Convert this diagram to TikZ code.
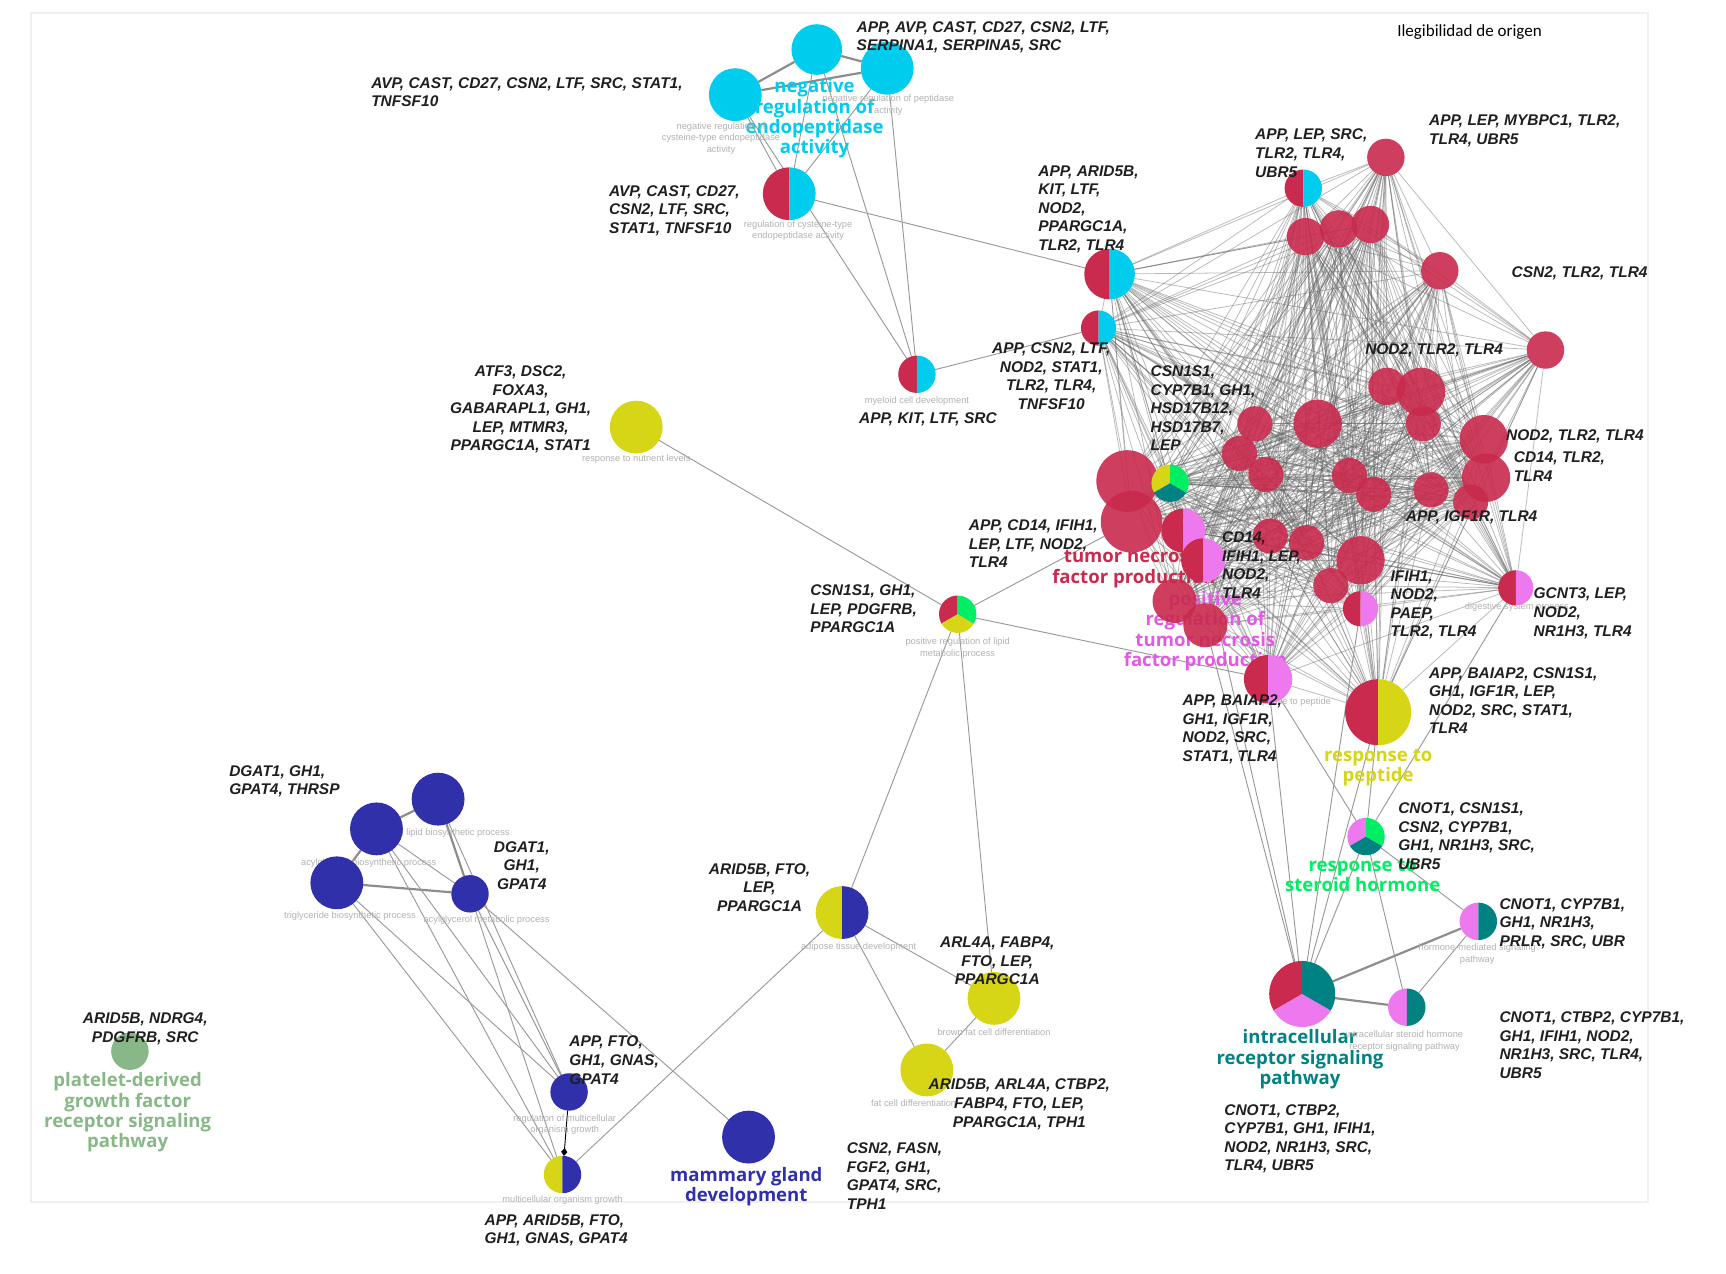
\documentclass[tikz,border=0pt]{standalone}
\usepackage{fontspec}
\setmainfont{Liberation Sans}
\newfontfamily\genef{Liberation Sans}
\newfontfamily\bigf{Open Sans}
\newfontfamily\carlf{Carlito}
\usetikzlibrary{arrows.meta}
\pgfdeclarelayer{bg}
\pgfdeclarelayer{edges}
\pgfdeclarelayer{biglabels}
\pgfsetlayers{bg,edges,biglabels,main}
\definecolor{cRed}{RGB}{201,42,77}
\definecolor{cCyan}{RGB}{0,204,238}
\definecolor{cYel}{RGB}{214,214,22}
\definecolor{cBlue}{RGB}{48,48,170}
\definecolor{cPink}{RGB}{238,120,238}
\definecolor{cGreen}{RGB}{0,238,100}
\definecolor{cTeal}{RGB}{0,130,130}
\definecolor{cLGreen}{RGB}{136,184,136}
\definecolor{cPinkTxt}{RGB}{225,90,225}
\newcommand{\plainnode}[5]{\node[nd, fill=#5, minimum size=#4*0.05cm] (#1) at (#2,#3) {};}
\newcommand{\rednode}[4]{\node[nd, fill=cRed, fill opacity=0.9, minimum size=#4*0.05cm] (#1) at (#2,#3) {};}
\newcommand{\halfnode}[6]{%
  \node[nd, minimum size=#4*0.05cm] (#1) at (#2,#3) {};
  \fill[#5] (#1.center) -- (#1.north) arc[start angle=90, end angle=270, radius=#4*0.025cm] -- cycle;
  \fill[#6] (#1.center) -- (#1.south) arc[start angle=-90, end angle=90, radius=#4*0.025cm] -- cycle;}
\newcommand{\trinode}[7]{%
  \node[nd, minimum size=#4*0.05cm] (#1) at (#2,#3) {};
  \fill[#5] (#1.center) -- (#1.90) arc[start angle=90, end angle=210, radius=#4*0.025cm] -- cycle;
  \fill[#6] (#1.center) -- (#1.210) arc[start angle=210, end angle=330, radius=#4*0.025cm] -- cycle;
  \fill[#7] (#1.center) -- (#1.330) arc[start angle=330, end angle=450, radius=#4*0.025cm] -- cycle;}
\def\meshlist{RC1,RC2,Ra,Rb,Rc,Rd,Re,Rf,Rg,Rh,Ri,Rj,Rk,Rl,Rm,Rn,Ro,Rp,Rq,Rr,Rs,Rt,Big1,Big2,Mx,Pk1,Pk2,Rx1,Rx2,Ru,Rv,Rw,Ry,Pk3,Pk4,Pk5,RY}
\begin{document}
\begin{tikzpicture}[x=0.025cm,y=-0.025cm,
  nd/.style={circle, inner sep=0pt, outer sep=0pt},
  genelbl/.style={font=\genef\bfseries\itshape\fontsize{10}{12}\selectfont, inner sep=0pt, text=black!88},
  biglbl/.style={font=\bigf\bfseries\fontsize{12}{13.2}\selectfont, inner sep=0pt, align=center, anchor=north},
  tinylbl/.style={font=\genef\fontsize{6}{7.6}\selectfont, inner sep=0pt, align=center, anchor=north, text=black!30},
  edg/.style={draw=black!40, line width=0.6pt},
  thickedg/.style={draw=black!45, line width=1.4pt},
  meshedg/.style={draw=black!60, line width=0.5pt, draw opacity=0.45}]
\useasboundingbox (0,0) rectangle (1568,1157);
\begin{pgfonlayer}{bg}
\fill[white] (0,0) rectangle (1568,1157);
\draw[black!6, line width=1.5pt] (28,12) rectangle (1497,1092);
\end{pgfonlayer}
\node[font=\carlf\fontsize{11}{13}\selectfont, inner sep=0pt] (title) at (1335,29) {Ilegibilidad de origen};

% ---------- nodes ----------
\plainnode{cA}{742}{45}{23}{cCyan}
\plainnode{cB}{806}{62}{24}{cCyan}
\plainnode{cC}{668}{86}{24}{cCyan}
\halfnode{rcA}{717}{176}{24}{cRed}{cCyan}
\halfnode{RCmy}{833}{340}{17}{cRed}{cCyan}
\plainnode{Nutr}{578}{388}{24}{cYel}
\trinode{Lipid}{870}{558}{17}{cRed}{cYel}{cGreen}
\halfnode{Adip}{765}{829}{24}{cYel}{cBlue}
\plainnode{Brown}{903}{907}{24}{cYel}
\plainnode{Fat}{842}{972}{24}{cYel}
\plainnode{Mamm}{680}{1033}{24}{cBlue}
\plainnode{RegG}{517}{992}{17}{cBlue}
\halfnode{MultiG}{511}{1067}{17}{cYel}{cBlue}
\plainnode{B1}{398}{726}{24}{cBlue}
\plainnode{B2}{342}{753}{24}{cBlue}
\plainnode{B3}{306}{802}{24}{cBlue}
\plainnode{B4}{427}{812}{17}{cBlue}
\plainnode{Pdgf}{118}{955}{17}{cLGreen}
\trinode{Steroid}{1241}{760}{17}{cPink}{cTeal}{cGreen}
\halfnode{Horm}{1343}{837}{17}{cPink}{cTeal}
\trinode{Intra}{1183}{903}{30}{cRed}{cPink}{cTeal}
\halfnode{ISter}{1278}{915}{17}{cPink}{cTeal}

\halfnode{RC1}{1008}{249}{23}{cRed}{cCyan}
\halfnode{RC2}{998}{298}{16}{cRed}{cCyan}
\halfnode{Ra}{1184}{171}{17}{cRed}{cCyan}
\rednode{Rb}{1259}{143}{17}
\rednode{Rc}{1186}{215}{17}
\rednode{Rd}{1216}{208}{17}
\rednode{Re}{1245}{204}{17}
\rednode{Rf}{1308}{246}{17}
\rednode{Rg}{1404}{318}{17}
\rednode{Rh}{1260}{351}{17}
\rednode{Ri}{1291}{356}{22}
\rednode{Rj}{1293}{385}{16}
\rednode{Rk}{1197}{385}{22}
\rednode{Rl}{1140}{385}{16}
\rednode{Rm}{1126}{412}{16}
\rednode{Rn}{1150}{431}{16}
\rednode{Ro}{1348}{399}{22}
\rednode{Rp}{1350}{434}{22}
\rednode{Rq}{1226}{432}{16}
\rednode{Rr}{1248}{449}{16}
\rednode{Rs}{1300}{445}{16}
\rednode{Rt}{1336}{456}{16}
\rednode{Big1}{1024}{437}{28}
\rednode{Big2}{1028}{474}{28}
\trinode{Mx}{1063}{439}{17}{cYel}{cTeal}{cGreen}
\halfnode{Pk1}{1075}{482}{20}{cRed}{cPink}
\halfnode{Pk2}{1093}{509}{20}{cRed}{cPink}
\rednode{Rx1}{1067}{546}{20}
\rednode{Rx2}{1095}{568}{20}
\rednode{Ru}{1154}{487}{16}
\rednode{Rv}{1187}{493}{16}
\rednode{Rw}{1236}{509}{22}
\rednode{Ry}{1209}{532}{16}
\halfnode{Pk3}{1236}{553}{16}{cRed}{cPink}
\halfnode{Pk4}{1377}{534}{16}{cRed}{cPink}
\halfnode{Pk5}{1152}{617}{22}{cRed}{cPink}
\halfnode{RY}{1252}{647}{30}{cRed}{cYel}

% ---------- edges ----------
\begin{pgfonlayer}{edges}
\foreach \a [count=\i] in \meshlist {
  \foreach \b [count=\j] in \meshlist {
    \ifnum\j>\i \draw[meshedg] (\a) -- (\b); \fi
  }
}
\draw[thickedg] (cA) -- (cB);
\draw[thickedg] (cA) -- (cC);
\draw[thickedg] (cB) -- (cC);
\draw[edg] (cC) -- (rcA);
\draw[edg] (cA) -- (rcA);
\draw[edg] (cB) -- (rcA);
\draw[edg] (cC) -- (RCmy);
\draw[edg] (cA) -- (RCmy);
\draw[edg] (cB) -- (RCmy);
\draw[edg] (rcA) -- (RC1);
\draw[edg] (RCmy) -- (RC2);
\draw[edg] (Nutr) -- (Lipid);
\draw[edg] (Lipid) -- (Big2);
\draw[edg] (Lipid) -- (Pk5);
\draw[edg] (Lipid) -- (Adip);
\draw[edg] (Lipid) -- (Brown);
\draw[edg] (Adip) -- (Brown);
\draw[edg] (Adip) -- (Fat);
\draw[edg] (Brown) -- (Fat);
\draw[edg] (Adip) -- (MultiG);
\draw[thickedg] (B1) -- (B2);
\draw[thickedg] (B2) -- (B3);
\draw[edg] (B2) -- (B4);
\draw[thickedg] (B3) -- (B4);
\draw[thickedg] (B1) -- (B4);
\draw[edg] (B3) -- (RegG);
\draw[edg] (B3) -- (MultiG);
\draw[edg] (B2) -- (RegG);
\draw[edg] (B2) -- (MultiG);
\draw[edg] (B1) -- (RegG);
\draw[edg] (B4) -- (RegG);
\draw[edg] (B4) -- (MultiG);
\draw[edg] (B4) -- (Mamm);
\draw[black, line width=0.6pt, -{Diamond[length=5pt,width=4pt]}] (RegG) -- (MultiG);
\draw[edg] (Steroid) -- (Horm);
\draw[thickedg] (Intra) -- (Horm);
\draw[thickedg] (Intra) -- (ISter);
\draw[edg] (ISter) -- (Horm);
\draw[edg] (Steroid) -- (Intra);
\draw[edg] (Steroid) -- (ISter);
\draw[edg] (Pk5) -- (Intra);
\draw[edg] (Pk2) -- (Intra);
\draw[edg] (Rx2) -- (Intra);
\draw[edg] (RY) -- (Intra);
\draw[edg] (Pk3) -- (Intra);
\draw[edg] (RY) -- (Steroid);
\draw[edg] (Pk5) -- (Steroid);
\draw[edg] (Pk4) -- (Steroid);
\end{pgfonlayer}

% ---------- big and tiny labels ----------
\begin{pgfonlayer}{biglabels}
\node[biglbl, text=cCyan] (bl1) at (740,71) {negative\\regulation of\\endopeptidase\\activity};
\node[biglbl, text=cRed] (bl2) at (1030,498) {tumor necrosis\\factor production};
\node[biglbl, text=cPinkTxt] (bl3) at (1095,537) {positive\\regulation of\\tumor necrosis\\factor production};
\node[biglbl, text=cYel] (bl4) at (1252,680) {response to\\peptide};
\node[biglbl, text=cGreen] (bl5) at (1238,780) {response to\\steroid hormone};
\node[biglbl, text=cTeal] (bl6) at (1181,935) {intracellular\\receptor signaling\\pathway};
\node[biglbl, text=cBlue] (bl7) at (678,1060) {mammary gland\\development};
\node[biglbl, text=cLGreen] (bl8) at (116,974) {platelet-derived\\growth factor\\receptor signaling\\pathway};
\node[tinylbl] (t1) at (807,86) {negative regulation of peptidase\\activity};
\node[tinylbl] (t2) at (655,111) {negative regulation of\\cysteine-type endopeptidase\\activity};
\node[tinylbl] (t3) at (725,200) {regulation of cysteine-type\\endopeptidase activity};
\node[tinylbl] (t4) at (833,360) {myeloid cell development};
\node[tinylbl] (t5) at (578,413) {response to nutrient levels};
\node[tinylbl] (t6) at (870,579) {positive regulation of lipid\\metabolic process};
\node[tinylbl] (t7) at (780,856) {adipose tissue development};
\node[tinylbl] (t8) at (903,934) {brown fat cell differentiation};
\node[tinylbl] (t9) at (830,999) {fat cell differentiation};
\node[tinylbl] (t10) at (513,1012) {regulation of multicellular\\organism growth};
\node[tinylbl] (t11) at (511,1086) {multicellular organism growth};
\node[tinylbl] (t12) at (402,753) {neutral lipid biosynthetic process};
\node[tinylbl] (t13) at (335,780) {acylglycerol biosynthetic process};
\node[tinylbl] (t14) at (318,828) {triglyceride biosynthetic process};
\node[tinylbl] (t15) at (442,832) {acylglycerol metabolic process};
\node[tinylbl] (t16) at (1342,857) {hormone-mediated signaling\\pathway};
\node[tinylbl] (t17) at (1276,936) {intracellular steroid hormone\\receptor signaling pathway};
\node[tinylbl] (t18) at (1378,547) {digestive system process};
\node[tinylbl] (t19) at (1172,634) {response to peptide};
\end{pgfonlayer}

% ---------- gene labels ----------
\node[genelbl, anchor=north west, align=left] (g1) at (778,19) {APP, AVP, CAST, CD27, CSN2, LTF,\\SERPINA1, SERPINA5, SRC};
\node[genelbl, anchor=north west, align=left] (g2) at (337,70) {AVP, CAST, CD27, CSN2, LTF, SRC, STAT1,\\TNFSF10};
\node[genelbl, anchor=north west, align=left] (g3) at (553,168) {AVP, CAST, CD27,\\CSN2, LTF, SRC,\\STAT1, TNFSF10};
\node[genelbl, anchor=north west, align=left] (g4) at (943,150) {APP, ARID5B,\\KIT, LTF,\\NOD2,\\PPARGC1A,\\TLR2, TLR4};
\node[genelbl, anchor=north, align=center] (g5) at (955,311) {APP, CSN2, LTF,\\NOD2, STAT1,\\TLR2, TLR4,\\TNFSF10};
\node[genelbl, anchor=north, align=center] (g6) at (843,375) {APP, KIT, LTF, SRC};
\node[genelbl, anchor=north, align=center] (g7) at (473,332) {ATF3, DSC2,\\FOXA3,\\GABARAPL1, GH1,\\LEP, MTMR3,\\PPARGC1A, STAT1};
\node[genelbl, anchor=north west, align=left] (g8) at (1140,117) {APP, LEP, SRC,\\TLR2, TLR4,\\UBR5};
\node[genelbl, anchor=north west, align=left] (g9) at (1298,104) {APP, LEP, MYBPC1, TLR2,\\TLR4, UBR5};
\node[genelbl, anchor=north west, align=left] (g10) at (1373,242) {CSN2, TLR2, TLR4};
\node[genelbl, anchor=north west, align=left] (g11) at (1240,312) {NOD2, TLR2, TLR4};
\node[genelbl, anchor=north west, align=left] (g12) at (1045,332) {CSN1S1,\\CYP7B1, GH1,\\HSD17B12,\\HSD17B7,\\LEP};
\node[genelbl, anchor=north west, align=left] (g13) at (1368,390) {NOD2, TLR2, TLR4};
\node[genelbl, anchor=north west, align=left] (g14) at (1375,410) {CD14, TLR2,\\TLR4};
\node[genelbl, anchor=north west, align=left] (g15) at (1277,464) {APP, IGF1R, TLR4};
\node[genelbl, anchor=north west, align=left] (g16) at (880,472) {APP, CD14, IFIH1,\\LEP, LTF, NOD2,\\TLR4};
\node[genelbl, anchor=north west, align=left] (g17) at (1110,483) {CD14,\\IFIH1, LEP,\\NOD2,\\TLR4};
\node[genelbl, anchor=north west, align=left] (g18) at (1263,518) {IFIH1,\\NOD2,\\PAEP,\\TLR2, TLR4};
\node[genelbl, anchor=north west, align=left] (g19) at (1393,534) {GCNT3, LEP,\\NOD2,\\NR1H3, TLR4};
\node[genelbl, anchor=north west, align=left] (g20) at (736,531) {CSN1S1, GH1,\\LEP, PDGFRB,\\PPARGC1A};
\node[genelbl, anchor=north west, align=left] (g21) at (1074,631) {APP, BAIAP2,\\GH1, IGF1R,\\NOD2, SRC,\\STAT1, TLR4};
\node[genelbl, anchor=north west, align=left] (g22) at (1298,606) {APP, BAIAP2, CSN1S1,\\GH1, IGF1R, LEP,\\NOD2, SRC, STAT1,\\TLR4};
\node[genelbl, anchor=north west, align=left] (g23) at (1270,729) {CNOT1, CSN1S1,\\CSN2, CYP7B1,\\GH1, NR1H3, SRC,\\UBR5};
\node[genelbl, anchor=north west, align=left] (g24) at (1362,816) {CNOT1, CYP7B1,\\GH1, NR1H3,\\PRLR, SRC, UBR};
\node[genelbl, anchor=north west, align=left] (g25) at (1362,919) {CNOT1, CTBP2, CYP7B1,\\GH1, IFIH1, NOD2,\\NR1H3, SRC, TLR4,\\UBR5};
\node[genelbl, anchor=north west, align=left] (g26) at (1112,1003) {CNOT1, CTBP2,\\CYP7B1, GH1, IFIH1,\\NOD2, NR1H3, SRC,\\TLR4, UBR5};
\node[genelbl, anchor=north, align=center] (g27) at (690,784) {ARID5B, FTO,\\LEP,\\PPARGC1A};
\node[genelbl, anchor=north, align=center] (g28) at (906,851) {ARL4A, FABP4,\\FTO, LEP,\\PPARGC1A};
\node[genelbl, anchor=north, align=center] (g29) at (926,980) {ARID5B, ARL4A, CTBP2,\\FABP4, FTO, LEP,\\PPARGC1A, TPH1};
\node[genelbl, anchor=north west, align=left] (g30) at (769,1038) {CSN2, FASN,\\FGF2, GH1,\\GPAT4, SRC,\\TPH1};
\node[genelbl, anchor=north west, align=left] (g31) at (517,941) {APP, FTO,\\GH1, GNAS,\\GPAT4};
\node[genelbl, anchor=north west, align=left] (g32) at (440,1103) {APP, ARID5B, FTO,\\GH1, GNAS, GPAT4};
\node[genelbl, anchor=north west, align=left] (g33) at (208,695) {DGAT1, GH1,\\GPAT4, THRSP};
\node[genelbl, anchor=north, align=center] (g34) at (474,764) {DGAT1,\\GH1,\\GPAT4};
\node[genelbl, anchor=north, align=center] (g35) at (132,920) {ARID5B, NDRG4,\\PDGFRB, SRC};
\end{tikzpicture}
\end{document}
